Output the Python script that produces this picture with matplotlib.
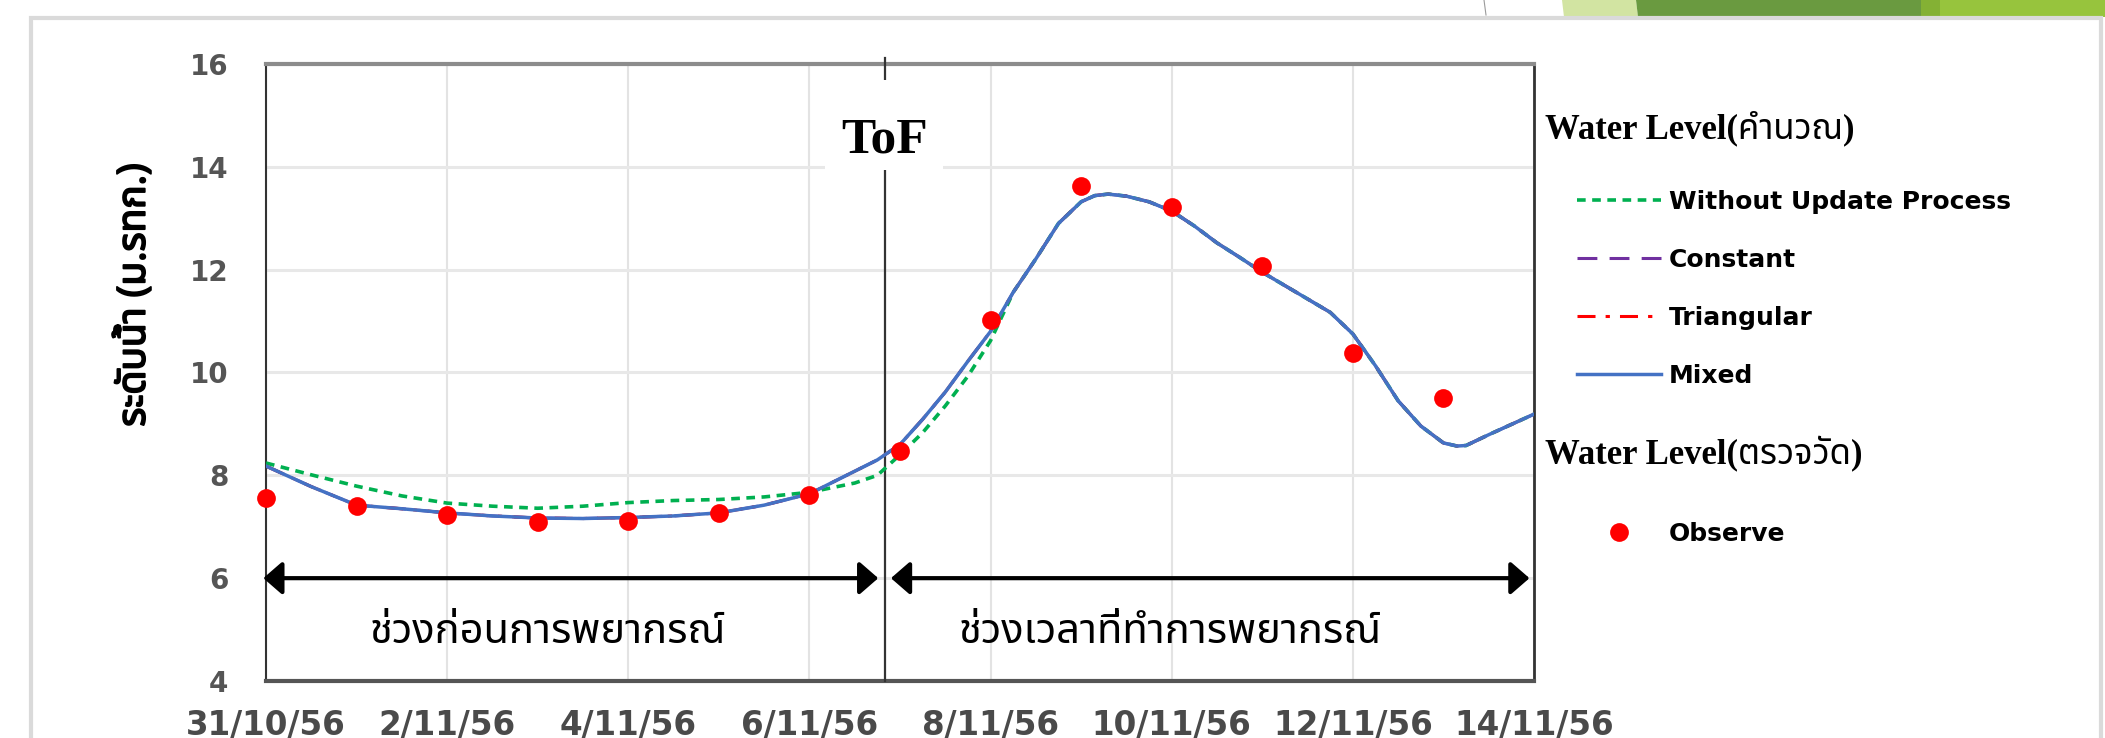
import matplotlib
matplotlib.use('Agg')
import matplotlib.pyplot as plt
from matplotlib import font_manager
from matplotlib import patheffects
from matplotlib.lines import Line2D
from matplotlib.patches import Rectangle, Polygon
from matplotlib.patches import ArrowStyle

# ---------------- data ----------------
day_ticks = [0, 2, 4, 6, 8, 10, 12, 14]
day_labels = ['31/10/56', '2/11/56', '4/11/56', '6/11/56',
              '8/11/56', '10/11/56', '12/11/56', '14/11/56']
level_ticks = [4, 6, 8, 10, 12, 14, 16]

obs_day = [0, 1, 2, 3, 4, 5, 6, 7, 8, 9, 10, 11, 12, 13]
obs_level = [7.55, 7.40, 7.23, 7.09, 7.12, 7.26, 7.62, 8.48, 11.02,
             13.63, 13.21, 12.08, 10.38, 9.51]

sim_day = [0, 0.5, 1, 1.5, 2, 2.5, 3, 3.5, 4, 4.5, 5, 5.5, 6, 6.5, 6.75,
           7, 7.25, 7.5, 7.75, 8, 8.25, 8.5, 8.75, 9, 9.15, 9.3, 9.5, 9.75,
           10, 10.25, 10.5, 10.75, 11, 11.25, 11.5, 11.75, 12, 12.25, 12.5,
           12.75, 13, 13.15, 13.25, 13.5, 13.75, 14]
without_update = [8.24, 8.01, 7.79, 7.60, 7.46, 7.40, 7.36, 7.40, 7.47, 7.51,
                  7.53, 7.58, 7.67, 7.85, 8.00, 8.40, 8.83, 9.35, 9.93, 10.62,
                  11.56, 12.21, 12.90, 13.32, 13.44, 13.47, 13.43, 13.32,
                  13.14, 12.85, 12.52, 12.24, 11.95, 11.69, 11.43, 11.17,
                  10.75, 10.13, 9.45, 8.96, 8.63, 8.57, 8.58, 8.79, 8.99, 9.19]
constant = [8.18, 7.78, 7.42, 7.35, 7.27, 7.21, 7.17, 7.16, 7.18, 7.21,
            7.27, 7.42, 7.64, 8.08, 8.30, 8.60, 9.09, 9.62, 10.22, 10.80,
            11.56, 12.21, 12.90, 13.32, 13.44, 13.47, 13.43, 13.32,
            13.14, 12.85, 12.52, 12.24, 11.95, 11.69, 11.43, 11.17,
            10.75, 10.13, 9.45, 8.96, 8.63, 8.57, 8.58, 8.79, 8.99, 9.19]
triangular = [8.18, 7.78, 7.42, 7.35, 7.27, 7.21, 7.17, 7.16, 7.18, 7.21,
              7.27, 7.42, 7.64, 8.08, 8.30, 8.60, 9.09, 9.62, 10.22, 10.80,
              11.56, 12.21, 12.90, 13.32, 13.44, 13.47, 13.43, 13.32,
              13.14, 12.85, 12.52, 12.24, 11.95, 11.69, 11.43, 11.17,
              10.75, 10.13, 9.45, 8.96, 8.63, 8.57, 8.58, 8.79, 8.99, 9.19]
mixed = [8.18, 7.78, 7.42, 7.35, 7.27, 7.21, 7.17, 7.16, 7.18, 7.21,
         7.27, 7.42, 7.64, 8.08, 8.30, 8.60, 9.09, 9.62, 10.22, 10.80,
         11.56, 12.21, 12.90, 13.32, 13.44, 13.47, 13.43, 13.32,
         13.14, 12.85, 12.52, 12.24, 11.95, 11.69, 11.43, 11.17,
         10.75, 10.13, 9.45, 8.96, 8.63, 8.57, 8.58, 8.79, 8.99, 9.19]

tof_day = 6.83
series_names = ['Without Update Process', 'Constant', 'Triangular', 'Mixed']
obs_name = 'Observe'
title_calc = 'Water Level(คำนวณ)'
title_meas = 'Water Level(ตรวจวัด)'
ylabel_text = 'ระดับน้ำ (ม.รทก.)'
period_before = 'ช่วงก่อนการพยากรณ์'
period_forecast = 'ช่วงเวลาที่ทำการพยากรณ์'


# ---------------- fonts ----------------
def find_thai_font():
    try:
        from fontTools.ttLib import TTFont
    except Exception:
        return None
    found = []
    for f in font_manager.fontManager.ttflist:
        try:
            kw = {'fontNumber': 0} if f.fname.lower().endswith('.ttc') else {}
            tt = TTFont(f.fname, lazy=True, **kw)
            cmap = tt.getBestCmap()
            if cmap and 0x0E01 in cmap and 0x0E33 in cmap and 0x0E13 in cmap:
                found.append(f.name)
        except Exception:
            pass
    if not found:
        return None
    pref = ['Noto Sans Thai', 'Sarabun', 'Loma', 'Garuda', 'Tlwg Typo',
            'Norasi', 'Kinnari', 'Waree', 'Laksaman']
    for p in pref:
        if p in found:
            return p
    return found[0]


thai = find_thai_font()
thai_sans = [thai, 'DejaVu Sans'] if thai else ['DejaVu Sans']
thai_serif = ['Liberation Serif', thai] if thai else ['Liberation Serif', 'DejaVu Sans']

W, H = 2105, 738
fig = plt.figure(figsize=(W / 100, H / 100), dpi=100)
fig.patch.set_facecolor('white')


def fx(px):
    return px / W


def fy(py):
    return 1 - py / H


# ---------------- slide decorations ----------------
fig.patches.append(Polygon([(fx(1562), fy(0)), (fx(1636), fy(0)),
                            (fx(1638), fy(17)), (fx(1564), fy(17))],
                           closed=True, transform=fig.transFigure,
                           facecolor='#d2e4a2', edgecolor='none'))
fig.patches.append(Polygon([(fx(1636), fy(0)), (fx(1921), fy(0)),
                            (fx(1921), fy(17)), (fx(1638), fy(17))],
                           closed=True, transform=fig.transFigure,
                           facecolor='#6a9a40', edgecolor='none'))
fig.patches.append(Rectangle((fx(1921), fy(17)), fx(19), 17 / H,
                             transform=fig.transFigure,
                             facecolor='#84b134', edgecolor='none'))
fig.patches.append(Rectangle((fx(1940), fy(17)), fx(165), 17 / H,
                             transform=fig.transFigure,
                             facecolor='#97c43d', edgecolor='none'))
fig.lines.append(Line2D([fx(1484), fx(1486)], [fy(0), fy(15)],
                        transform=fig.transFigure, color='#9a9a9a', lw=0.8))
fig.patches.append(Rectangle((fx(31), fy(742)), fx(2070), 724 / H,
                             transform=fig.transFigure, facecolor='none',
                             edgecolor='#dadada', lw=3))

# ---------------- axes ----------------
ax = fig.add_axes([fx(266), fy(681), fx(1534 - 266), (681 - 64) / H])
ax.set_xlim(0, 14)
ax.set_ylim(4, 16)
ax.set_xticks(day_ticks)
ax.set_xticklabels(day_labels)
ax.set_yticks(level_ticks)
ax.tick_params(axis='both', length=0)
ax.tick_params(axis='x', pad=20, labelsize=23.5, labelcolor='#4a4a4a')
ax.tick_params(axis='y', pad=27, labelsize=20, labelcolor='#555555')
for lab in ax.get_xticklabels() + ax.get_yticklabels():
    lab.set_fontweight('bold')
ax.grid(axis='y', color='#e8e8e8', lw=2.2, zorder=0)
ax.grid(axis='x', color='#e3e3e3', lw=1.5, zorder=0)
ax.set_axisbelow(True)
ax.spines['left'].set_color('#333333')
ax.spines['left'].set_linewidth(1.5)
ax.spines['right'].set_color('#333333')
ax.spines['right'].set_linewidth(2.0)
ax.spines['top'].set_color('#8c8c8c')
ax.spines['top'].set_linewidth(3.0)
ax.spines['bottom'].set_color('#555555')
ax.spines['bottom'].set_linewidth(3.0)

# ToF marker line and label (white label box interrupts line and grid)
ax.plot([tof_day, tof_day], [4, 16.12], color='#333333', lw=1.6,
        clip_on=False, zorder=3)
ax.add_patch(Rectangle((6.17, 13.94), 1.305, 1.75, facecolor='white',
                       edgecolor='none', zorder=3.5))
ax.text(tof_day, 14.27, 'ToF', ha='center', va='baseline', fontsize=37,
        fontweight='bold', family=['Liberation Serif'], zorder=4)

# series
l_wo, = ax.plot(sim_day, without_update, color='#00b050', lw=2.6,
                linestyle=(0, (2.4, 1.8)), zorder=5)
l_co, = ax.plot(sim_day, constant, color='#7030a0', lw=2.2,
                linestyle=(0, (6.5, 4)), zorder=6)
l_tr, = ax.plot(sim_day, triangular, color='#ff0000', lw=2.2,
                linestyle=(0, (5.9, 3.3, 1.4, 3.3)), zorder=7)
l_mx, = ax.plot(sim_day, mixed, color='#4472c4', lw=2.5, zorder=8,
                solid_joinstyle='round')
l_ob, = ax.plot(obs_day, obs_level, linestyle='none', marker='o',
                markersize=13.5, color='#ff0000', markeredgewidth=0,
                zorder=9, clip_on=False)

# period arrows
arrow_style = ArrowStyle('<|-|>', head_length=0.23, head_width=0.2)
ax.annotate('', xy=(-0.03, 6), xytext=(6.76, 6),
            arrowprops=dict(arrowstyle=arrow_style, color='black', lw=3,
                            mutation_scale=50, shrinkA=0, shrinkB=0),
            annotation_clip=False, zorder=10)
ax.annotate('', xy=(6.9, 6), xytext=(13.95, 6),
            arrowprops=dict(arrowstyle=arrow_style, color='black', lw=3,
                            mutation_scale=50, shrinkA=0, shrinkB=0),
            annotation_clip=False, zorder=10)
ax.text(3.11, 4.95, period_before, ha='center', va='center', fontsize=30,
        family=thai_sans, color='black', zorder=10)
ax.text(9.98, 4.95, period_forecast, ha='center', va='center', fontsize=30,
        family=thai_sans, color='black', zorder=10)

# y label
fig.text(fx(134), fy(295), ylabel_text, rotation=90, ha='center',
         va='center', fontsize=28, fontweight='bold', family=thai_sans,
         color='black',
         path_effects=[patheffects.withStroke(linewidth=1.3,
                                              foreground='black')])

# legend titles
fig.text(fx(1545), fy(128), title_calc, ha='left', va='center',
         fontsize=25, fontweight='bold', family=thai_serif, color='black')
fig.text(fx(1545), fy(454), title_meas, ha='left', va='center',
         fontsize=25, fontweight='bold', family=thai_serif, color='black')

leg_kw = dict(loc='upper left', bbox_transform=fig.transFigure,
              frameon=False, borderpad=0, borderaxespad=0,
              handlelength=3.36, handletextpad=0.32, labelspacing=1.36,
              prop={'size': 18, 'weight': 'bold', 'family': 'DejaVu Sans'})
leg1 = ax.legend([l_wo, l_co, l_tr, l_mx], series_names,
                 bbox_to_anchor=(fx(1577), fy(190)), **leg_kw)
ax.add_artist(leg1)
leg2 = ax.legend([l_ob], [obs_name], bbox_to_anchor=(fx(1577), fy(522)),
                 numpoints=1, **leg_kw)

fig.savefig('out.png', dpi=100, facecolor='white')
